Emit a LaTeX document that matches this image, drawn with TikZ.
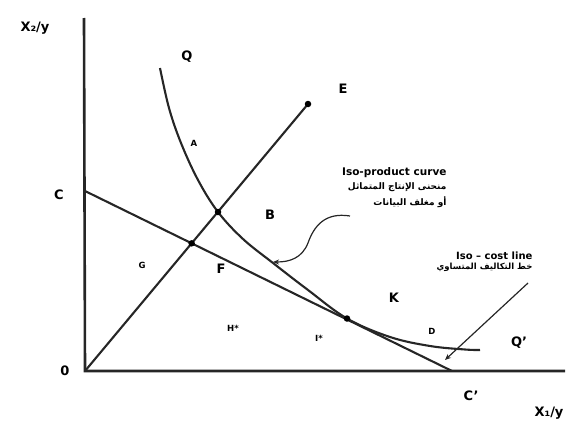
\documentclass[tikz,border=0pt]{standalone}
\usepackage{fontspec}
\setmainfont{DejaVu Sans}
\newfontfamily\arabicfont[Script=Arabic]{DejaVu Sans}
\TeXXeTstate=1
\usetikzlibrary{arrows.meta,positioning,calc}

\begin{document}
\begin{tikzpicture}[
    x=1pt,y=-1pt,
    >=Stealth,
    font=\bfseries,
    axis/.style={draw=black!85,line width=2.6pt},
    curve/.style={draw=black!85,line width=2.1pt},
    pointer/.style={-{Stealth[length=6pt,width=5pt]},draw=black!85,line width=1.2pt},
    dot/.style={circle,fill=black,inner sep=0pt,minimum size=6.5pt},
    big/.style={font=\fontsize{13}{15}\selectfont\bfseries},
    small/.style={font=\fontsize{8.5}{10}\selectfont\bfseries},
    note/.style={align=right,anchor=north east,font=\fontsize{10.5}{15}\selectfont\bfseries},
    arab/.style={font=\fontsize{9}{16}\selectfont\bfseries\arabicfont},
]
\useasboundingbox (0,0) rectangle (571,423);

% ---- axes ----
\coordinate (O) at (85,371);
\coordinate (ytop) at (84,18);
\coordinate (xend) at (565,371);
\draw[axis] (ytop) -- (O) -- (xend);
\node[big] (x2lab) at (35,28) {X₂/y};
\node[big] (x1lab) at (549,413) {X₁/y};
\node[big] (olab) at (65,371) {0};

% ---- iso-cost line C -- C' ----
\coordinate (C) at (85,191);
\coordinate (Cp) at (452,371);
\draw[curve] (C) -- (Cp);
\node[big] (clab) at (59,195) {C};
\node[big] (cplab) at (471,396) {C'};

% ---- ray from the origin ----
\coordinate (E) at (308,104);
\draw[curve] (O) -- (E);
\node[dot] (edot) at (E) {};
\node[big] (elab) at (343,89) {E};
\coordinate (F0) at (intersection of O--E and C--Cp);
\node[dot] (fdot) at (F0) {};

% ---- isoquant Q -- Q' ----
\coordinate (B0) at (218,212);
\coordinate (K0) at (347,318.5);
\draw[curve] plot[smooth,tension=0.6] coordinates {
    (160,68) (169,108) (181,143) (198,180) (B0) (243,239) (273,263)
    (308,290) (K0) (390,337) (430,346) (465,349.5) (480,350)};
\node[dot] (bdot) at (B0) {};
\node[dot] (kdot) at (K0) {};
\node[big] (qlab) at (187,57) {Q};
\node[big] (qplab) at (519,343) {Q'};

% region letters
\node[small] (alab) at (194,143) {A};
\node[big] (blab) at (270,215) {B};
\node[small] (glab) at (142,265) {G};
\node[big] (flab) at (221,269) {F};
\node[small] (hlab) at (233,328) {H*};
\node[small] (ilab) at (319,338) {I*};
\node[big] (klab) at (394,298) {K};
\node[small] (dlab) at (432,331) {D};

% ---- notes ----
\node[note] (isoprod) at (450,164) {Iso-product curve};
\node[note,arab,below=-2pt of isoprod.south east,anchor=north east] (isoprodar)
    {\beginR منحنى الإنتاج المتماثل\endR\\ \beginR أو مغلف البيانات\endR};
\coordinate (isoprodTail) at (350,216);
\coordinate (isoprodTip) at (273,262);
\draw[pointer] (isoprodTail) .. controls (325,212) and (314,226) .. (308,243)
    .. controls (302,258) and (290,262) .. (isoprodTip);

\node[note,font=\fontsize{10}{14}\selectfont\bfseries] (isocost) at (536,248)
    {Iso -- cost line};
\node[note,arab,font=\fontsize{8.5}{14}\selectfont\bfseries\arabicfont,
    below=-3pt of isocost.south east,anchor=north east] (isocostar)
    {\beginR خط التكاليف المتساوي\endR};
\coordinate (isocostTail) at (528,283);
\coordinate (isocostTip) at (445,360);
\draw[pointer] (isocostTail) -- (isocostTip);
\end{tikzpicture}
\end{document}
